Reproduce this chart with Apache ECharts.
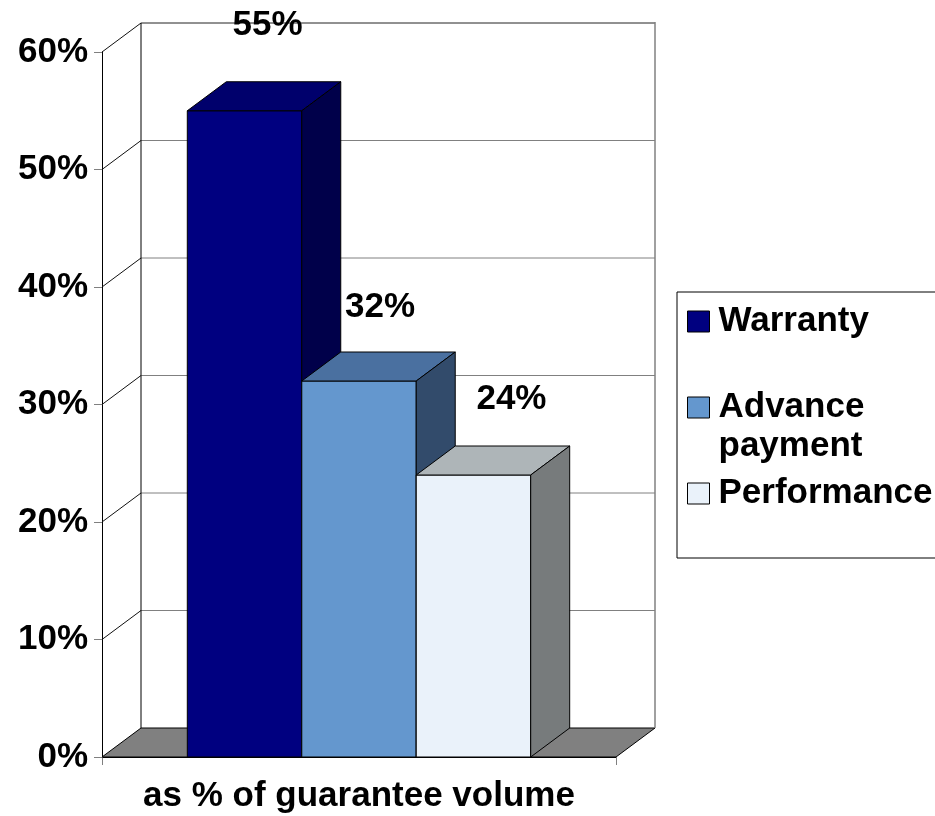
<!DOCTYPE html>
<html><head><meta charset="utf-8">
<script src="https://cdn.jsdelivr.net/npm/echarts@6/dist/echarts.min.js"></script>
<style>html,body{margin:0;padding:0;background:#fff}#c{width:935px;height:816px}</style>
</head><body><div id="c"></div>
<script>
// ---- data ----
const categories = ['as % of guarantee volume'];
const seriesNames = ['Warranty', 'Advance payment', 'Performance'];
const warrantyValues = [55];
const advanceValues = [32];
const performanceValues = [24];
const yTicks = [0, 10, 20, 30, 40, 50, 60];

// ---- style ----
const FONT = '"Liberation Sans", Arial, Helvetica, sans-serif';
const DX = 39, DY = -29;          // 3D depth offset
const BAR_RATIO = 0.2227;         // bar width as share of category band
const faceColors = [
  { front: '#000080', top: '#00006C', side: '#00004A' },
  { front: '#6497CE', top: '#4A70A0', side: '#324B6B' },
  { front: '#EAF2FA', top: '#AEB5B8', side: '#777B7C' }
];
const labelOffsets = [[23, -85], [21, -74], [38, -76]];

function makeBar(idx, values) {
  return {
    type: 'custom', name: seriesNames[idx], z: 3 + idx,
    coordinateSystem: 'cartesian2d', silent: true,
    itemStyle: { color: faceColors[idx].front },
    data: values.map((v, i) => [i, v]),
    renderItem: function (params, api) {
      const c = faceColors[idx];
      const p = api.coord([api.value(0), api.value(1)]);
      const b = api.coord([api.value(0), 0]);
      const w = api.size([1, 0])[0] * BAR_RATIO;
      const x0 = p[0] - 1.5 * w + idx * w;
      const ty = p[1], by = b[1];
      return {
        type: 'group', children: [
          { type: 'rect', shape: { x: x0, y: ty, width: w, height: by - ty },
            style: { fill: c.front, stroke: '#000', lineWidth: 1 } },
          { type: 'polygon', shape: { points: [[x0, ty], [x0 + w, ty], [x0 + w + DX, ty + DY], [x0 + DX, ty + DY]] },
            style: { fill: c.top, stroke: '#000', lineWidth: 1 } },
          { type: 'polygon', shape: { points: [[x0 + w, ty], [x0 + w + DX, ty + DY], [x0 + w + DX, by + DY], [x0 + w, by]] },
            style: { fill: c.side, stroke: '#000', lineWidth: 1 } },
          { type: 'text', x: x0 + w / 2 + labelOffsets[idx][0], y: ty + labelOffsets[idx][1],
            style: { text: api.value(1) + '%', fill: '#000', font: 'bold 35px ' + FONT, align: 'center', verticalAlign: 'middle' } }
        ]
      };
    }
  };
}

const wallSeries = {
  type: 'custom', name: 'wall', z: 1, silent: true,
  coordinateSystem: 'cartesian2d',
  data: [[0, 0]],
  renderItem: function (params, api) {
    const cs = params.coordSys;
    const gx = cs.x, gw = cs.width;
    const by = api.coord([0, 0])[1];
    const ty = api.coord([0, yTicks[yTicks.length - 1]])[1];
    const ch = [];
    ch.push({ type: 'polygon', shape: { points: [[gx, by], [gx + gw, by], [gx + gw + DX, by + DY], [gx + DX, by + DY]] },
      style: { fill: '#808080', stroke: '#000', lineWidth: 1 } });
    yTicks.forEach(function (v, i) {
      if (i === 0) return;
      const y = api.coord([0, v])[1];
      const isTop = i === yTicks.length - 1;
      ch.push({ type: 'line', shape: { x1: gx + DX, y1: y + DY, x2: gx + gw + DX, y2: y + DY },
        style: { stroke: isTop ? '#222' : '#808080', lineWidth: 1 } });
      ch.push({ type: 'line', shape: { x1: gx, y1: y, x2: gx + DX, y2: y + DY },
        style: { stroke: '#111', lineWidth: 1 } });
    });
    ch.push({ type: 'line', shape: { x1: gx + DX, y1: by + DY, x2: gx + DX, y2: ty + DY },
      style: { stroke: '#000', lineWidth: 1 } });
    ch.push({ type: 'line', shape: { x1: gx + gw + DX, y1: by + DY, x2: gx + gw + DX, y2: ty + DY - 1 },
      style: { stroke: '#808080', lineWidth: 1.5 } });
    return { type: 'group', children: ch };
  }
};

const chart = echarts.init(document.getElementById('c'), null, { renderer: 'canvas' });
chart.setOption({
  animation: false,
  backgroundColor: '#fff',
  grid: { left: 102, right: 319, top: 52, bottom: 59, containLabel: false },
  xAxis: {
    type: 'category', data: categories,
    axisLine: { show: true, lineStyle: { color: '#000', width: 1 } },
    axisTick: { show: true, length: 8, lineStyle: { color: '#808080' } },
    axisLabel: { margin: 22, fontSize: 35, fontWeight: 'bold', color: '#000', fontFamily: FONT },
    splitLine: { show: false }
  },
  yAxis: {
    type: 'value', min: 0, max: 60, interval: 10,
    axisLine: { show: true, lineStyle: { color: '#000', width: 1 } },
    axisTick: { show: true, length: 8, lineStyle: { color: '#808080' } },
    axisLabel: { formatter: '{value}%', margin: 14, padding: [4, 0, 0, 0], fontSize: 35, fontWeight: 'bold', color: '#000', fontFamily: FONT },
    splitLine: { show: false }
  },
  legend: {
    orient: 'vertical', left: 677, top: 292,
    padding: [10, 300, 45, 10],
    itemGap: 8, itemWidth: 22, itemHeight: 21, icon: 'rect',
    borderColor: '#000', borderWidth: 1,
    itemStyle: { borderColor: '#000', borderWidth: 1 },
    textStyle: { fontSize: 35, fontWeight: 'bold', color: '#000', fontFamily: FONT, lineHeight: 39, padding: [0, 0, 0, 4] },
    formatter: function (name) { return name === 'Advance payment' ? '\nAdvance\npayment' : name; },
    data: ['Warranty', 'Advance payment', 'Performance'],
    selectedMode: false
  },
  series: [
    wallSeries,
    makeBar(0, warrantyValues),
    makeBar(1, advanceValues),
    makeBar(2, performanceValues)
  ]
});
</script>
</body></html>
